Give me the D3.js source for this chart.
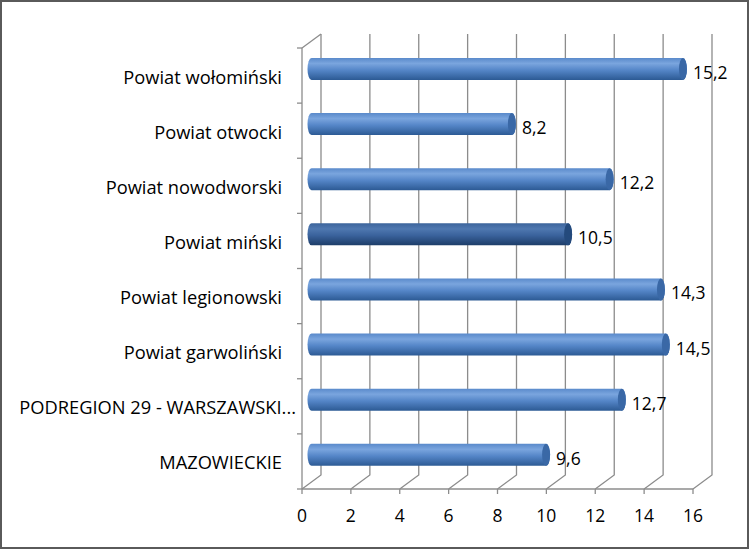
<!DOCTYPE html>
<html>
<head>
<meta charset="utf-8">
<script src="https://cdn.jsdelivr.net/npm/d3@7"></script>
<style>
  body { margin: 0; background: #fff; }
  text { font-family: "Open Sans", Lato, sans-serif; fill: #000; }
</style>
</head>
<body>
<svg id="chart" width="753" height="550"></svg>
<script>
const categories = [
    "Powiat wołomiński",
    "Powiat otwocki",
    "Powiat nowodworski",
    "Powiat miński",
    "Powiat legionowski",
    "Powiat garwoliński",
    "PODREGION 29 - WARSZAWSKI...",
    "MAZOWIECKIE"
];
const values = [15.2, 8.2, 12.2, 10.5, 14.3, 14.5, 12.7, 9.6];
const valueLabels = ["15,2", "8,2", "12,2", "10,5", "14,3", "14,5", "12,7", "9,6"];
const highlighted = ["Powiat miński"];
const xTicks = [0, 2, 4, 6, 8, 10, 12, 14, 16];

const depth = { dx: 19, dy: -14 };
const barH = 22;

const svg = d3.select("#chart");

// outer frame
svg.append("rect")
    .attr("x", 1).attr("y", 1)
    .attr("width", 747).attr("height", 547)
    .attr("fill", "#fff")
    .attr("stroke", "#5a5a5a")
    .attr("stroke-width", 2);

const x = d3.scaleLinear().domain([0, 16]).range([302, 693]);
const y = d3.scaleBand().domain(categories).range([48, 489]).padding(0);

const defs = svg.append("defs");
function grad(id, stops) {
    const g = defs.append("linearGradient").attr("id", id)
        .attr("x1", 0).attr("y1", 0).attr("x2", 0).attr("y2", 1);
    stops.forEach(([o, c]) => g.append("stop").attr("offset", o).attr("stop-color", c));
}
grad("barNorm", [[0, "#5a8acb"], [0.25, "#7aa5de"], [0.55, "#5586c8"], [1, "#2c5a94"]]);
grad("barDark", [[0, "#3d659c"], [0.25, "#4f78b0"], [0.55, "#3a629c"], [1, "#1d3d68"]]);

// gridlines: floor diagonals + back wall verticals
const grid = svg.append("g").attr("stroke", "#8c8c8c").attr("stroke-width", 1.3).attr("fill", "none");
grid.selectAll("path").data(xTicks).join("path")
    .attr("d", d => `M${x(d)},489 L${x(d) + depth.dx},${489 + depth.dy} L${x(d) + depth.dx},${48 + depth.dy}`);
// top-left diagonal
grid.append("path").attr("d", `M${x(0)},48 L${x(0) + depth.dx},${48 + depth.dy}`);

// axes
const axes = svg.append("g").attr("stroke", "#8c8c8c").attr("stroke-width", 1.3);
axes.append("line").attr("x1", x(0)).attr("x2", x(0)).attr("y1", 48).attr("y2", 489);
axes.append("line").attr("x1", x(0)).attr("x2", x(16)).attr("y1", 489).attr("y2", 489);
const yBounds = categories.map(c => y(c)).concat([489]);
axes.selectAll(".yt").data(yBounds).join("line")
    .attr("x1", x(0) - 5).attr("x2", x(0)).attr("y1", d => d).attr("y2", d => d);
axes.selectAll(".xt").data(xTicks).join("line")
    .attr("x1", d => x(d)).attr("x2", d => x(d)).attr("y1", 489).attr("y2", 494);

// x tick labels
svg.append("g").selectAll("text").data(xTicks).join("text")
    .attr("x", d => x(d)).attr("y", 522)
    .attr("text-anchor", "middle")
    .style("font-size", "17.5px")
    .text(d => d);

// category labels (truncated name overhangs the others)
svg.append("g").selectAll("text").data(categories).join("text")
    .attr("x", d => d.endsWith("...") ? 296 : 282)
    .attr("y", d => y(d) + y.bandwidth() / 2 + 8)
    .attr("text-anchor", "end")
    .style("font-size", "18.3px")
    .text(d => d);

// cylinders
const rx = 4;
const bars = svg.append("g").selectAll("g").data(categories).join("g")
    .attr("transform", (d, i) => `translate(0, ${y(d) + y.bandwidth() / 2 + depth.dy * 0.47})`);

bars.append("path")
    .attr("d", (d, i) => {
        const x0 = x(0) + depth.dx * 0.5;
        const x1 = x(values[i]) + depth.dx * 0.5;
        const h = barH / 2;
        return `M${x0},${-h} L${x1},${-h} A${rx},${h} 0 0 1 ${x1},${h} L${x0},${h} A${rx},${h} 0 0 1 ${x0},${-h} Z`;
    })
    .attr("fill", d => highlighted.includes(d) ? "url(#barDark)" : "url(#barNorm)");

bars.append("ellipse")
    .attr("cx", (d, i) => x(values[i]) + depth.dx * 0.5)
    .attr("cy", 0)
    .attr("rx", rx).attr("ry", barH / 2)
    .attr("fill", d => highlighted.includes(d) ? "#244a7c" : "#3a68a6");

bars.append("text")
    .attr("x", (d, i) => x(values[i]) + depth.dx * 0.5 + rx + 6)
    .attr("y", 10)
    .style("font-size", "17.5px")
    .text((d, i) => valueLabels[i]);
</script>
</body>
</html>
